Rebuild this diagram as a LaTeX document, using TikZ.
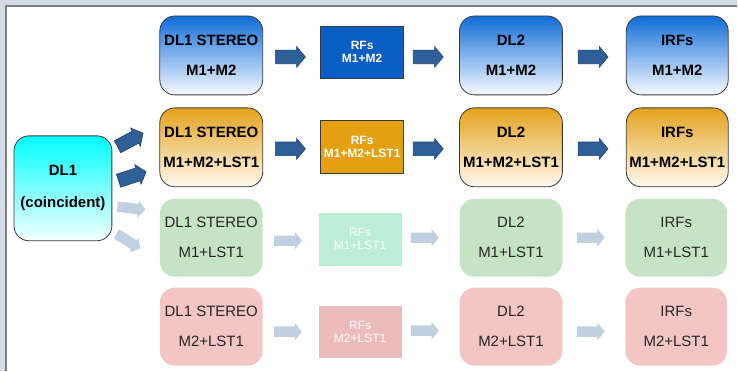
\documentclass[tikz,border=0pt]{standalone}
\usepackage{fontspec}
\setmainfont{Liberation Sans}
\usetikzlibrary{shapes.arrows,calc}

\definecolor{pagebg}{HTML}{D4DDE7}
\definecolor{frameline}{HTML}{7E7E7E}
\definecolor{bluetop}{HTML}{106CD8}
\definecolor{bluebot}{HTML}{F7FAFF}
\definecolor{orangetop}{HTML}{E3A21C}
\definecolor{orangebot}{HTML}{FFF9F0}
\definecolor{cyantop}{HTML}{00FFFF}
\definecolor{cyanbot}{HTML}{F6FFFF}
\definecolor{rfblue}{HTML}{0A5EC4}
\definecolor{rforange}{HTML}{E4A010}
\definecolor{greenbox}{HTML}{C6E3C6}
\definecolor{mintbox}{HTML}{BDEED5}
\definecolor{pinkbox}{HTML}{F3C5C5}
\definecolor{rfpink}{HTML}{ECBCBC}
\definecolor{arrowfill}{HTML}{2E5F96}
\definecolor{arrowedge}{HTML}{1F4370}
\definecolor{fadearrow}{HTML}{C0D0E1}
\definecolor{boxedge}{HTML}{3A3A3A}
\definecolor{softtext}{HTML}{262626}

\tikzset{
  bigbox/.style={rounded corners=15pt, minimum width=103pt, minimum height=79pt,
    inner sep=0pt, align=center, font=\fontsize{15}{30}\selectfont},
  boldbox/.style={bigbox, draw=boxedge, line width=0.8pt,
    font=\bfseries\fontsize{15}{30}\selectfont, text=black},
  bluebox/.style={boldbox, top color=bluetop, bottom color=bluebot},
  orangebox/.style={boldbox, top color=orangetop, bottom color=orangebot},
  greenstep/.style={bigbox, fill=greenbox, text=softtext},
  pinkstep/.style={bigbox, fill=pinkbox, text=softtext},
  rfbox/.style={minimum width=83pt, minimum height=52pt, inner sep=0pt,
    align=center, font=\fontsize{12}{13}\selectfont},
  rfbold/.style={rfbox, draw=boxedge, line width=0.8pt, text=white,
    font=\bfseries\fontsize{12}{13}\selectfont},
  blockarrow/.style={single arrow, anchor=tail, inner xsep=0pt, inner ysep=6.5pt,
    minimum height=30pt, single arrow head extend=3.5pt,
    single arrow tip angle=100, fill=arrowfill, draw=arrowedge, line width=0.6pt},
  fadedarrow/.style={single arrow, anchor=tail, inner xsep=0pt, inner ysep=5pt,
    minimum height=28pt, single arrow head extend=3.5pt,
    single arrow tip angle=100, fill=fadearrow},
}

\begin{document}
\begin{tikzpicture}[x=1pt, y=-1pt]
  % page background and frame
  \fill[pagebg] (0,0) rectangle (738,371);
  \fill[white] (5,5) rectangle (738,371);
  \draw[frameline, line width=1.6pt] (5.8,371) -- (5.8,5.8) -- (738,5.8);
  \useasboundingbox (0,0) rectangle (738,371);

  % input
  \node[bigbox, draw=boxedge, line width=0.8pt, top color=cyantop, bottom color=cyanbot,
        minimum width=98pt, minimum height=105pt,
        font=\bfseries\fontsize{15}{32}\selectfont] (dl1) at (63,188.5) {DL1\\(coincident)};

  % row 1: M1+M2
  \node[bluebox] (s1) at (211.5,55.5) {DL1 STEREO\\M1+M2};
  \node[rfbold, fill=rfblue] (r1) at (362.5,52) {RFs\\M1+M2};
  \node[bluebox] (d1) at (511.5,55.5) {DL2\\M1+M2};
  \node[bluebox, minimum width=102pt] (i1) at (678,55.5) {IRFs\\M1+M2};

  % row 2: M1+M2+LST1
  \node[orangebox] (s2) at (211.5,147.5) {DL1 STEREO\\M1+M2+LST1};
  \node[rfbold, fill=rforange, minimum height=53pt] (r2) at (362.5,147.5) {RFs\\M1+M2+LST1};
  \node[orangebox] (d2) at (511.5,147.5) {DL2\\M1+M2+LST1};
  \node[orangebox, minimum width=102pt] (i2) at (678,147.5) {IRFs\\M1+M2+LST1};

  % row 3: M1+LST1
  \node[greenstep, minimum height=78pt] (s3) at (211.5,238) {DL1 STEREO\\M1+LST1};
  \node[rfbox, fill=mintbox, text=white, minimum height=53pt] (r3) at (360.5,239.5) {RFs\\M1+LST1};
  \node[greenstep, minimum height=78pt] (d3) at (511.5,238) {DL2\\M1+LST1};
  \node[greenstep, minimum height=78pt, minimum width=102pt] (i3) at (677,238) {IRFs\\M1+LST1};

  % row 4: M2+LST1
  \node[pinkstep, minimum height=78pt] (s4) at (211.5,327) {DL1 STEREO\\M2+LST1};
  \node[rfbox, fill=rfpink, text=white] (r4) at (360.5,332) {RFs\\M2+LST1};
  \node[pinkstep, minimum height=78pt] (d4) at (511.5,327) {DL2\\M2+LST1};
  \node[pinkstep, minimum height=78pt, minimum width=102pt] (i4) at (677,327) {IRFs\\M2+LST1};

  % arrows leaving DL1
  \node[blockarrow, rotate=28, minimum height=29pt] (a01) at ($(dl1.east)+(5,-41.5)$) {};
  \node[blockarrow, rotate=18, minimum height=29pt] (a02) at ($(dl1.east)+(6,-7.5)$) {};
  \node[fadedarrow, rotate=-6] (a03) at ($(dl1.east)+(5,18.5)$) {};
  \node[fadedarrow, rotate=-32] (a04) at ($(dl1.east)+(4,45.5)$) {};

  % arrows along rows 1 and 2
  \foreach \r in {1,2}{
    \node[blockarrow] (as\r) at ($(s\r.east)+(12,1.5)$) {};
    \node[blockarrow] (ar\r) at ($(r\r.east |- s\r.east)+(9,1.5)$) {};
    \node[blockarrow] (ad\r) at ($(d\r.east)+(15,1.5)$) {};
  }

  % arrows along rows 3 and 4
  \node[fadedarrow] (as3) at ($(s3.east)+(11,3)$) {};
  \node[fadedarrow] (ar3) at ($(r3.east |- s3.east)+(9,0)$) {};
  \node[fadedarrow] (ad3) at ($(d3.east)+(14,0)$) {};
  \node[fadedarrow] (as4) at ($(s4.east)+(11,5)$) {};
  \node[fadedarrow] (ar4) at ($(r4.east |- s4.east)+(9,4)$) {};
  \node[fadedarrow] (ad4) at ($(d4.east)+(14,5)$) {};
\end{tikzpicture}
\end{document}
